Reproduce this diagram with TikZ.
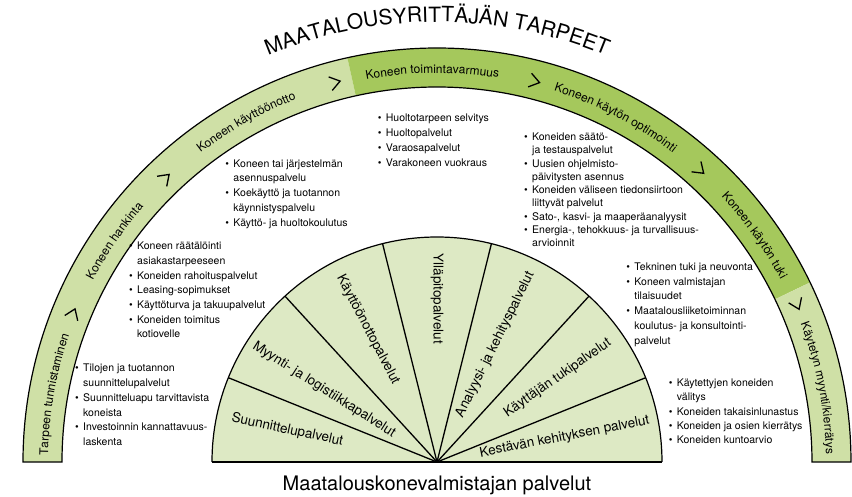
\documentclass[tikz,border=0pt]{standalone}
\usepackage{fontspec}
\setmainfont{TeX Gyre Heros}
\usetikzlibrary{decorations.text}

\definecolor{bandlight}{RGB}{207,224,166}
\definecolor{banddark}{RGB}{165,200,92}
\definecolor{sectorfill}{RGB}{221,233,196}

\newcommand\bandfont{\fontsize{12}{14}\selectfont}
\newcommand\titlefont{\fontsize{21}{25}\selectfont}
\newcommand\itm{\makebox[8pt][l]{•}}
\newcommand\cont{\hspace*{8pt}}

\tikzset{
  outline/.style={draw=black, line width=1.2pt},
  sectorline/.style={draw=black, line width=1.3pt},
  chevron/.style={draw=black, line width=1.3pt},
  sectorlabel/.style={font=\fontsize{13.5}{16}\selectfont, inner sep=0pt},
  bullets/.style={anchor=north west, align=left, inner sep=0pt,
    font=\fontsize{10.5}{#1}\selectfont},
  arctext/.style={decorate, decoration={text along path, text align=center, text={#1}}},
}

\begin{document}
\begin{tikzpicture}[x=1pt,y=1pt]
\useasboundingbox (-437,-34) rectangle (415,462);

% outer band of needs, in three coloured parts
\fill[bandlight] (180:414) arc[start angle=180,end angle=102.5,radius=414]
  -- (102.5:375) arc[start angle=102.5,end angle=180,radius=375] -- cycle;
\fill[banddark] (102.5:414) arc[start angle=102.5,end angle=25.7,radius=414]
  -- (25.7:375) arc[start angle=25.7,end angle=102.5,radius=375] -- cycle;
\fill[bandlight] (25.7:414) arc[start angle=25.7,end angle=0,radius=414]
  -- (0:375) arc[start angle=0,end angle=25.7,radius=375] -- cycle;
\draw[outline] (-375,0) -- (-414,0) arc[start angle=180,end angle=0,radius=414]
  -- (375,0) arc[start angle=0,end angle=180,radius=375] -- cycle;

% chevrons between the phases
\foreach \a in {157.8,133.7,105,75.6,48,23.6}
  \draw[chevron, shift={(\a:393)}, rotate=\a-90] (-5,7) -- (5,0) -- (-5,-7);

% phase labels along the band
\path[arctext={|\bandfont|Tarpeen tunnistaminen}]
  (190:389) arc[start angle=190,end angle=150,radius=389];
\path[arctext={|\bandfont|Koneen hankinta}]
  (165.6:389) arc[start angle=165.6,end angle=125.6,radius=389];
\path[arctext={|\bandfont|Koneen käyttöönotto}]
  (139.3:389) arc[start angle=139.3,end angle=99.3,radius=389];
\path[arctext={|\bandfont|Koneen toimintavarmuus}]
  (110.7:389) arc[start angle=110.7,end angle=70.7,radius=389];
\path[arctext={|\bandfont|Koneen käytön optimointi}]
  (82.6:389) arc[start angle=82.6,end angle=42.6,radius=389];
\path[arctext={|\bandfont|Koneen käytön tuki}]
  (55.5:389) arc[start angle=55.5,end angle=15.5,radius=389];
\path[arctext={|\bandfont|Käytetyn myynti/kierrätys}]
  (31:389) arc[start angle=31,end angle=-9,radius=389];

% title along the top
\path[arctext={|\titlefont|MAATALOUSYRITTÄJÄN TARPEET}]
  (125:440) arc[start angle=125,end angle=55,radius=440];

% inner half disc of services
\fill[sectorfill] (-225,0) arc[start angle=180,end angle=0,radius=225] -- cycle;
\foreach \a in {22,47.5,76,104,132.5,158}
  \draw[sectorline] (0,0) -- (\a:225);
\draw[outline] (-225,0) arc[start angle=180,end angle=0,radius=225];
\draw[line width=2pt] (-225,0) -- (225,0);

\node[sectorlabel, rotate=-12] (s1) at (168:153) {Suunnittelupalvelut};
\node[sectorlabel, rotate=-32.5] (s2) at (147.5:134) {Myynti- ja logistiikkapalvelut};
\node[sectorlabel, rotate=-62.4] (s3) at (117.6:149) {Käyttöönottopalvelut};
\node[sectorlabel, rotate=-90] (s4) at (90:163) {Ylläpitopalvelut};
\node[sectorlabel, rotate=63.6] (s5) at (63.6:131) {Analyysi- ja kehityspalvelut};
\node[sectorlabel, rotate=34.8] (s6) at (34.8:147) {Käyttäjän tukipalvelut};
\node[sectorlabel, rotate=11] (s7) at (11:130) {Kestävän kehityksen palvelut};

% service lists
\node[bullets=14.8] (l1) at (-362,100.9) {\strut\itm Tilojen ja tuotannon\\ \cont suunnittelupalvelut\\
  \itm Suunnitteluapu tarvittavista\\ \cont koneista\\ \itm Investoinnin kannattavuus-\\ \cont laskenta};
\node[bullets=14.7] (l2) at (-308,222.8) {\strut\itm Koneen räätälöinti\\ \cont asiakastarpeeseen\\
  \itm Koneiden rahoituspalvelut\\ \itm Leasing-sopimukset\\ \itm Käyttöturva ja takuupalvelut\\
  \itm Koneiden toimitus\\ \cont kotiovelle};
\node[bullets=14.75] (l3) at (-211.7,305.5) {\strut\itm Koneen tai järjestelmän\\ \cont asennuspalvelu\\
  \itm Koekäyttö ja tuotannon\\ \cont käynnistyspalvelu\\ \itm Käyttö- ja huoltokoulutus};
\node[bullets=14.7] (l4) at (-59.3,350.5) {\strut\itm Huoltotarpeen selvitys\\ \itm Huoltopalvelut\\
  \itm Varaosapalvelut\\ \itm Varakoneen vuokraus};
\node[bullets=13.3] (l5) at (87,331.1) {\strut\itm Koneiden säätö-\\ \cont ja testauspalvelut\\
  \itm Uusien ohjelmisto-\\ \cont päivitysten asennus\\ \itm Koneiden väliseen tiedonsiirtoon\\
  \cont liittyvät palvelut\\ \itm Sato-, kasvi- ja maaperäanalyysit\\
  \itm Energia-, tehokkuus- ja turvallisuus-\\ \cont arvioinnit};
\node[bullets=14.8] (l6) at (189.3,202.2) {\strut\itm Tekninen tuki ja neuvonta\\ \itm Koneen valmistajan\\
  \cont tilaisuudet\\ \itm Maatalousliiketoiminnan\\ \cont koulutus- ja konsultointi-\\ \cont palvelut};
\node[bullets=14.3] (l7) at (231.7,85.8) {\strut\itm Käytettyjen koneiden\\ \cont välitys\\
  \itm Koneiden takaisinlunastus\\ \itm Koneiden ja osien kierrätys\\ \itm Koneiden kuntoarvio};

% bottom caption
\node[anchor=base, font=\fontsize{20}{24}\selectfont, inner sep=0pt] (caption) at (0,-28)
  {Maatalouskonevalmistajan palvelut};
\end{tikzpicture}
\end{document}
